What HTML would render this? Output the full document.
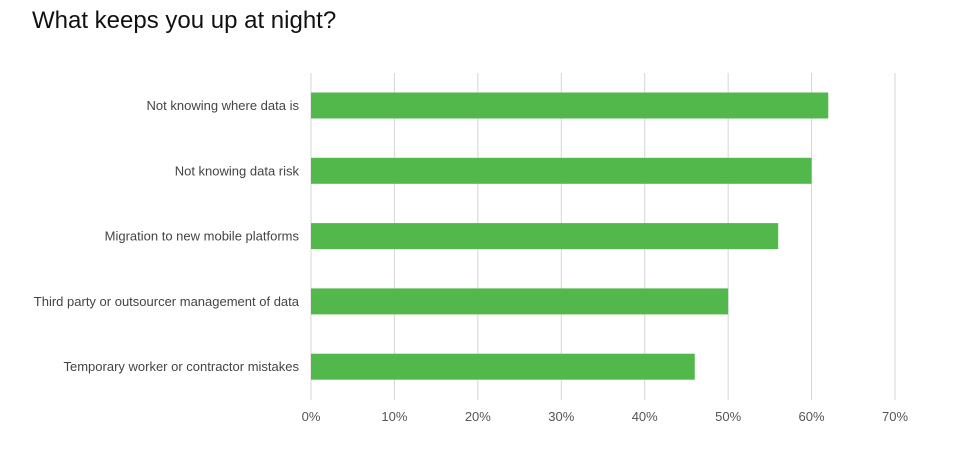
<!DOCTYPE html>
<html><head><meta charset="utf-8"><style>
html,body{margin:0;padding:0;background:#fff;}
svg{display:block;font-family:"Liberation Sans",Arial,sans-serif;}
</style></head><body>
<svg id="chart" width="975" height="453" viewBox="0 0 975 453">
<text x="32" y="28" font-size="24" fill="#111">What keeps you up at night?</text>
<g id="grid"></g><g id="bars"></g><g id="labels"></g><g id="ticks"></g>
</svg>
<script>
const categories = ["Not knowing where data is","Not knowing data risk","Migration to new mobile platforms","Third party or outsourcer management of data","Temporary worker or contractor mistakes"];
const values = [62, 60, 56, 50, 46];
const tickValues = [0,10,20,30,40,50,60,70];
const tickLabels = ["0%","10%","20%","30%","40%","50%","60%","70%"];

const NS="http://www.w3.org/2000/svg";
const x0=311, x70=895, gridTop=73, gridBottom=400, bandTop=92.5, pitch=65.3, barH=26;
const xs=v=>x0+(x70-x0)*v/70;
const ys=i=>bandTop+i*pitch;
function mk(tag,attrs,parent,txt){const e=document.createElementNS(NS,tag);for(const k in attrs)e.setAttribute(k,attrs[k]);if(txt!=null)e.textContent=txt;document.getElementById(parent).appendChild(e);return e;}
tickValues.forEach((t,i)=>{
  const g=mk('line',{x1:xs(t),x2:xs(t),y1:gridTop,y2:gridBottom,stroke:'#d6d6d6','stroke-width':1},'grid');
  
  
  const l=mk('text',{x:xs(t),y:421,'font-size':13,fill:'#555','text-anchor':'middle'},'ticks',tickLabels[i]);
  
  
});
categories.forEach((c,i)=>{
  const b=mk('rect',{x:x0,y:ys(i),width:xs(values[i])-x0,height:barH,fill:'#52b84c'},'bars');
  
  
  const t=mk('text',{x:299,y:ys(i)+barH/2+4.5,'font-size':13,fill:'#444','text-anchor':'end'},'labels',c);
  
  
});
</script>
</body></html>
